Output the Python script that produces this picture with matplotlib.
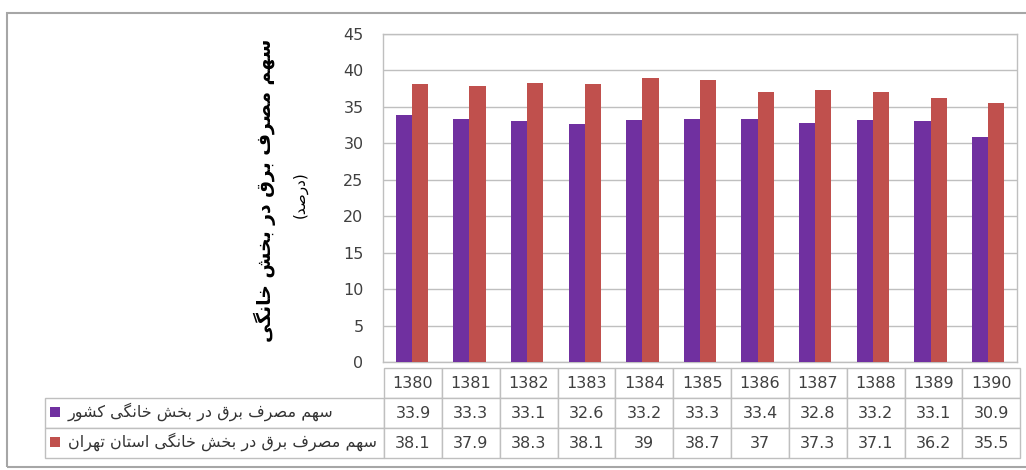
import numpy as np
import matplotlib
matplotlib.use("Agg")
import matplotlib.pyplot as plt
from matplotlib.patches import Rectangle

# -----------------------------
# Data
# -----------------------------

years = ["1380", "1381", "1382", "1383", "1384", "1385",
         "1386", "1387", "1388", "1389", "1390"]
share_country = [33.9, 33.3, 33.1, 32.6, 33.2, 33.3, 33.4, 32.8, 33.2, 33.1, 30.9]
share_tehran = [38.1, 37.9, 38.3, 38.1, 39, 38.7, 37, 37.3, 37.1, 36.2, 35.5]

label_country = "سهم مصرف برق در بخش خانگی کشور"
label_tehran = "سهم مصرف برق در بخش خانگی استان تهران"
y_title = "سهم مصرف برق در بخش خانگی"
y_unit = "(درصد)"

purple = "#7030A0"
red = "#C0504D"
grid_gray = "#BFBFBF"
text_gray = "#404040"


# -----------------------------
# Simple Persian shaping (matplotlib has no bidi / joining)
# forms: isolated, final, initial, medial
# -----------------------------

FORMS = {
    "ا": ("\uFE8D", "\uFE8E", None, None),
    "ب": ("\uFE8F", "\uFE90", "\uFE91", "\uFE92"),
    "ت": ("\uFE95", "\uFE96", "\uFE97", "\uFE98"),
    "خ": ("\uFEA5", "\uFEA6", "\uFEA7", "\uFEA8"),
    "د": ("\uFEA9", "\uFEAA", None, None),
    "ر": ("\uFEAD", "\uFEAE", None, None),
    "س": ("\uFEB1", "\uFEB2", "\uFEB3", "\uFEB4"),
    "ش": ("\uFEB5", "\uFEB6", "\uFEB7", "\uFEB8"),
    "ص": ("\uFEB9", "\uFEBA", "\uFEBB", "\uFEBC"),
    "ف": ("\uFED1", "\uFED2", "\uFED3", "\uFED4"),
    "ق": ("\uFED5", "\uFED6", "\uFED7", "\uFED8"),
    "م": ("\uFEE1", "\uFEE2", "\uFEE3", "\uFEE4"),
    "ن": ("\uFEE5", "\uFEE6", "\uFEE7", "\uFEE8"),
    "ه": ("\uFEE9", "\uFEEA", "\uFEEB", "\uFEEC"),
    "و": ("\uFEED", "\uFEEE", None, None),
    "ک": ("\uFB8E", "\uFB8F", "\uFB90", "\uFB91"),
    "گ": ("\uFB92", "\uFB93", "\uFB94", "\uFB95"),
    "ی": ("\uFBFC", "\uFBFD", "\uFBFE", "\uFBFF"),
}
MIRROR = {"(": ")", ")": "("}


def fa(s):
    out = []
    for i, ch in enumerate(s):
        if ch not in FORMS:
            out.append(MIRROR.get(ch, ch))
            continue
        iso, fin, ini, med = FORMS[ch]
        prev = s[i - 1] if i > 0 else ""
        nxt = s[i + 1] if i + 1 < len(s) else ""
        join_prev = prev in FORMS and FORMS[prev][2] is not None
        join_next = ini is not None and nxt in FORMS
        if join_prev and join_next:
            out.append(med)
        elif join_prev:
            out.append(fin)
        elif join_next:
            out.append(ini)
        else:
            out.append(iso)
    return "".join(reversed(out))


# -----------------------------
# Figure
# -----------------------------

W, H = 1026, 470
fig = plt.figure(figsize=(W / 100, H / 100), dpi=100)

# outer chart border
fig.patches.append(Rectangle((7 / W, 1 - 467 / H), 1.1, (467 - 13) / H,
                             transform=fig.transFigure, fill=False,
                             edgecolor="#A6A6A6", linewidth=1.5))

ax_left, ax_right, ax_top, ax_bottom = 383, 1017, 34, 362
ax = fig.add_axes([ax_left / W, 1 - ax_bottom / H,
                   (ax_right - ax_left) / W, (ax_bottom - ax_top) / H])

x = np.arange(len(years))
bw = 0.28
ax.bar(x - bw / 2, share_country, width=bw, color=purple, zorder=3)
ax.bar(x + bw / 2, share_tehran, width=bw, color=red, zorder=3)

ax.set_xlim(-0.5, len(years) - 0.5)
ax.set_ylim(0, 45)
ax.set_yticks(np.arange(0, 46, 5))
ax.set_xticks([])
ax.tick_params(axis="y", length=0, pad=14, labelsize=11.5, labelcolor=text_gray)
ax.yaxis.grid(True, color=grid_gray, linewidth=1, zorder=0)
for s in ax.spines.values():
    s.set_color(grid_gray)
    s.set_linewidth(1)

# -----------------------------
# Data table under the bars
# -----------------------------

def fmt(v):
    return "{:g}".format(v)

cell_text = [[""] + [fmt(v) for v in share_country],
             [""] + [fmt(v) for v in share_tehran]]
col_labels = [""] + years
label_w = (ax_left - 45) / (ax_right - ax_left)
col_w = [label_w] + [1 / len(years)] * len(years)

tbl_top = -(368 - ax_bottom) / (ax_bottom - ax_top)
tbl_bot = -(458 - ax_bottom) / (ax_bottom - ax_top)
tbl = ax.table(cellText=cell_text, colLabels=col_labels, colWidths=col_w,
               cellLoc="center",
               bbox=[-label_w, tbl_bot, 1 + label_w + 0.005, tbl_top - tbl_bot])
tbl.auto_set_font_size(False)
tbl.set_fontsize(11.5)
for (r, c), cell in tbl.get_celld().items():
    cell.set_edgecolor(grid_gray)
    cell.set_linewidth(1)
    cell.get_text().set_color(text_gray)
tbl[0, 0].visible_edges = "open"

# series labels with colour keys inside the first column
ax_w = ax_right - ax_left
ax_h = ax_bottom - ax_top
for row_y, lab, col in [(412, label_country, purple), (442, label_tehran, red)]:
    yy = -(row_y - ax_bottom) / ax_h
    ax.text((68 - ax_left) / ax_w, yy, fa(lab),
            transform=ax.transAxes, ha="left", va="center",
            fontsize=11.5, color="#333333", clip_on=False)
    ax.add_patch(Rectangle(((50 - ax_left) / ax_w, yy - 5 / ax_h),
                           10 / ax_w, 10 / ax_h,
                           transform=ax.transAxes, facecolor=col,
                           edgecolor="none", clip_on=False))

# -----------------------------
# Y axis title
# -----------------------------

fig.text(265 / W, 1 - 190 / H, fa(y_title), rotation=90, ha="center",
         va="center", fontsize=13.5, fontweight="bold", color="black")
fig.text(300 / W, 1 - 195 / H, fa(y_unit), rotation=90, ha="center",
         va="center", fontsize=11, color="black")

fig.savefig("out.png", dpi=100)
